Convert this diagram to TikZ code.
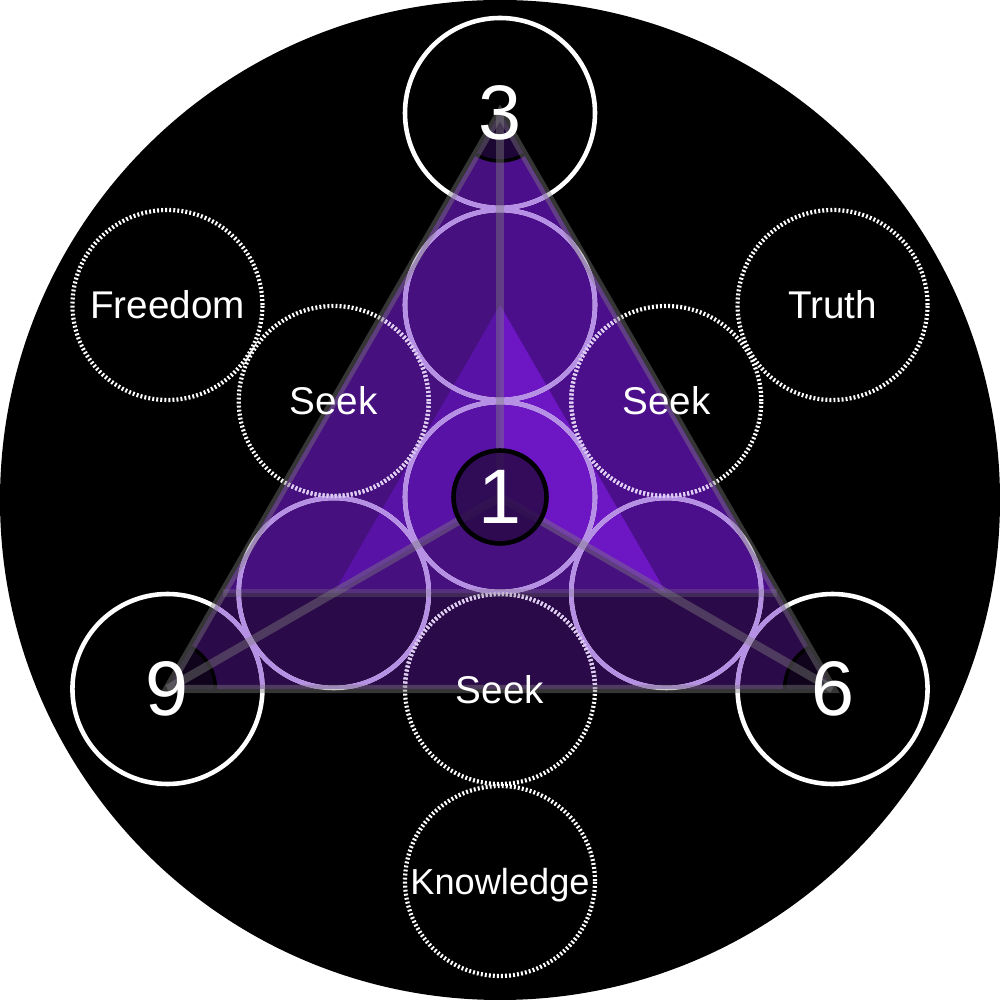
\documentclass[tikz,border=0pt]{standalone}
\usepackage{fontspec}
\setmainfont{Liberation Sans}
\usetikzlibrary{calc}
\definecolor{faceL}{HTML}{46107E}
\definecolor{faceR}{HTML}{4C0F8C}
\definecolor{innerL}{HTML}{5812A6}
\definecolor{innerR}{HTML}{6C16C4}
\definecolor{band}{HTML}{2A0A48}
\definecolor{lilac}{HTML}{B690E4}
\begin{document}
\begin{tikzpicture}[x=1cm, y=1cm,
    ring/.style={draw=#1, line width=1.3pt},
    dotring/.style={draw=#1, line width=1.2pt, dash pattern=on 0.55pt off 0.6pt},
    rim/.style={draw=gray, draw opacity=0.42, line width=2.4pt},
    numtext/.style={text=white, font=\fontsize{22}{22}\selectfont, inner sep=0pt},
    wordtext/.style={text=white, font=\fontsize{11}{11}\selectfont, inner sep=0pt, text depth=0pt}]
  \useasboundingbox (-5,-5) rectangle (5,5);
  \fill[black] (0,0) circle (5);
  % centre and the six directions, spacing 1.92
  \coordinate (c) at (0,0.03);
  \coordinate (t) at ($(c)+(90:3.84)$);
  \coordinate (l) at ($(c)+(210:3.84)$);
  \coordinate (r) at ($(c)+(330:3.84)$);
  \coordinate (mt) at ($(c)+(90:1.92)$);
  \coordinate (ml) at ($(c)+(210:1.92)$);
  \coordinate (mr) at ($(c)+(330:1.92)$);
  \coordinate (sl) at ($(c)+(150:1.92)$);
  \coordinate (sr) at ($(c)+(30:1.92)$);
  \coordinate (sb) at ($(c)+(270:1.92)$);
  \coordinate (fr) at ($(c)+(150:3.84)$);
  \coordinate (tr) at ($(c)+(30:3.84)$);
  \coordinate (kn) at ($(c)+(270:3.84)$);
  \coordinate (bl) at ($(l)!1/6!(t)$);
  \coordinate (br) at ($(r)!1/6!(t)$);
  % pyramid faces
  \fill[faceL] (t) -- (c) -- (l) -- cycle;
  \fill[faceR] (t) -- (c) -- (r) -- cycle;
  \fill[faceL] (l) -- (c) -- (r) -- cycle;
  \fill[band] (l) -- (r) -- (br) -- (bl) -- cycle;
  \fill[innerL] (mt) -- (c) -- (ml) -- cycle;
  \fill[innerR] (mt) -- (c) -- (mr) -- cycle;
  % rings
  \foreach \p in {t,l,r,mt,ml,mr,c}
    \draw[ring=white] (\p) circle (0.95);
  \foreach \p in {sl,sr,sb,fr,tr,kn}
    \draw[dotring=white] (\p) circle (0.95);
  \begin{scope}
    \clip (t) -- (l) -- (r) -- cycle;
    \foreach \p in {t,l,r,mt,ml,mr,c}
      \draw[ring=lilac] (\p) circle (0.95);
    \foreach \p in {sl,sr,sb}
      \draw[dotring=lilac!45!white] (\p) circle (0.95);
  \end{scope}
  % corner wedges
  \fill[black, opacity=0.6] (t) -- ++(240:0.48) arc (240:300:0.48) -- cycle;
  \fill[black, opacity=0.6] (l) -- ++(0:0.48) arc (0:60:0.48) -- cycle;
  \fill[black, opacity=0.6] (r) -- ++(120:0.48) arc (120:180:0.48) -- cycle;
  \draw[black, line width=1pt] ($(t)+(240:0.48)$) arc (240:300:0.48);
  \draw[black, line width=1pt] ($(l)+(0:0.48)$) arc (0:60:0.48);
  \draw[black, line width=1pt] ($(r)+(120:0.48)$) arc (120:180:0.48);
  % edges and medians
  \draw[rim] (t) -- (l) -- (r) -- cycle;
  \draw[rim] (c) -- (t);
  \draw[rim] (c) -- (l);
  \draw[rim] (c) -- (r);
  \draw[rim, draw opacity=0.28, line width=2pt] (bl) -- (br);
  % labels
  \node[circle, minimum size=0.93cm, fill=band, fill opacity=0.85, text opacity=1,
        draw=black, line width=1.3pt, numtext] (one) at (c) {1};
  \node[numtext] (three) at (t) {3};
  \node[numtext] (nine) at (l) {9};
  \node[numtext] (six) at (r) {6};
  \node[wordtext] (seekl) at (sl) {Seek};
  \node[wordtext] (seekr) at (sr) {Seek};
  \node[wordtext] (seekb) at (sb) {Seek};
  \node[wordtext] (freedom) at (fr) {Freedom};
  \node[wordtext] (truth) at (tr) {Truth};
  \node[wordtext, font=\fontsize{10.3}{10.3}\selectfont] (knowledge) at (kn) {Knowledge};
\end{tikzpicture}
\end{document}
